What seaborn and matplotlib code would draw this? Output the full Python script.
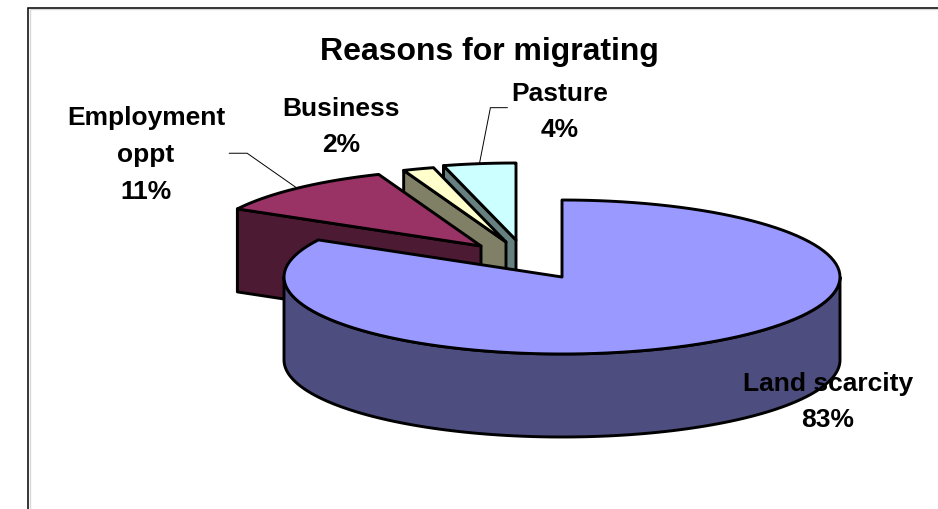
import numpy as np
import pandas as pd
import seaborn as sns
import matplotlib
matplotlib.use("Agg")
import matplotlib.pyplot as plt
from matplotlib.patches import Polygon

categories = ["Land scarcity", "Employment oppt", "Business", "Pasture"]
label_lines = ["Land scarcity", "Employment\noppt", "Business", "Pasture"]
values = [83, 11, 1.8, 4.2]
top_colors = ["#9999FF", "#993366", "#FFFFCC", "#CCFFFF"]
side_colors = ["#4D4D80", "#4D1A33", "#808066", "#668080"]

# layout (pixels)
CX, CY, RX, RY, DEPTH = 562, 278, 278, 77, 83
explode_dx = [0, -81, -56, -46]
explode_dy = [0, -31, -35, -37]
label_x = [828, 146, 341, 560]
label_y = [402, 155, 127, 112]
EDGE = 2.1

sns.set_theme(style="white", rc={"axes.grid": False})
plt.rcParams["font.family"] = ["Liberation Sans", "DejaVu Sans"]
palette = sns.color_palette(top_colors)

df = pd.DataFrame({"category": categories, "value": values})
df["share"] = df["value"] / df["value"].sum()
df["end"] = df["share"].cumsum() * 360
df["start"] = df["end"] - df["share"] * 360

fig = plt.figure(figsize=(9.38, 5.10), dpi=100, facecolor="white")
ax = fig.add_axes([0, 0, 1, 1])
ax.set_xlim(0, 938)
ax.set_ylim(510, 0)
ax.axis("off")


def rim(cx, cy, a0, a1, n=120):
    t = np.radians(np.linspace(a0, a1, n))
    return np.column_stack([cx + RX * np.sin(t), cy - RY * np.cos(t)])


def patch(pts, color, z):
    ax.add_patch(Polygon(pts, closed=True, facecolor=color, edgecolor="black",
                         linewidth=EDGE, joinstyle="round", zorder=z))


def shifted(pts, dy):
    return pts + np.array([0, dy])


# back-to-front: pasture, business, employment, land
for z, i in enumerate([3, 2, 1, 0]):
    row = df.iloc[i]
    cx, cy = CX + explode_dx[i], CY + explode_dy[i]
    a0, a1 = row["start"], row["end"]
    arc = rim(cx, cy, a0, a1)
    base = 10 + z * 5
    if i == 0:
        # curved front wall only
        wall = rim(cx, cy, 90, 270)
        patch(np.vstack([wall, shifted(wall, DEPTH)[::-1]]), side_colors[i], base)
    else:
        # cut face on the leading edge of the exploded wedge
        start = arc[0]
        apex = np.array([cx, cy])
        face = np.array([start, apex, apex + [0, DEPTH], start + [0, DEPTH]])
        patch(face, side_colors[i], base)
    patch(np.vstack([[cx, cy], arc]), palette[i], base + 1)

# chart frame
ax.plot([29.5, 29.5, 938], [510, 10, 10], color="#D8D8D8", lw=1.0, zorder=1,
        solid_joinstyle="miter")
ax.plot([28.0, 28.0, 938], [510, 9, 9], color="black", lw=1.1, zorder=2,
        solid_joinstyle="miter")

# title
ax.text(489, 52, "Reasons for migrating", ha="center", va="center",
        fontsize=23, fontweight="bold", color="black", zorder=40)

# data labels
for i, row in df.iterrows():
    ax.text(label_x[i], label_y[i], f"{label_lines[i]}\n{row['value']:.0f}%",
            ha="center", va="center", fontsize=19, fontweight="bold",
            color="black", linespacing=1.68, zorder=40)


def leader(i, elbow_dx, elbow_dy, stub):
    row = df.iloc[i]
    mid = np.radians((row["start"] + row["end"]) / 2)
    x = CX + explode_dx[i] + RX * np.sin(mid)
    y = CY + explode_dy[i] - RY * np.cos(mid)
    ex, ey = x + elbow_dx, y + elbow_dy
    ax.plot([x, ex, ex + stub], [y, ey, ey], color="black", lw=0.7, zorder=30)


leader(1, -50, -35, -18)
leader(3, 11, -56, 17)

fig.savefig("out.png", dpi=100)
